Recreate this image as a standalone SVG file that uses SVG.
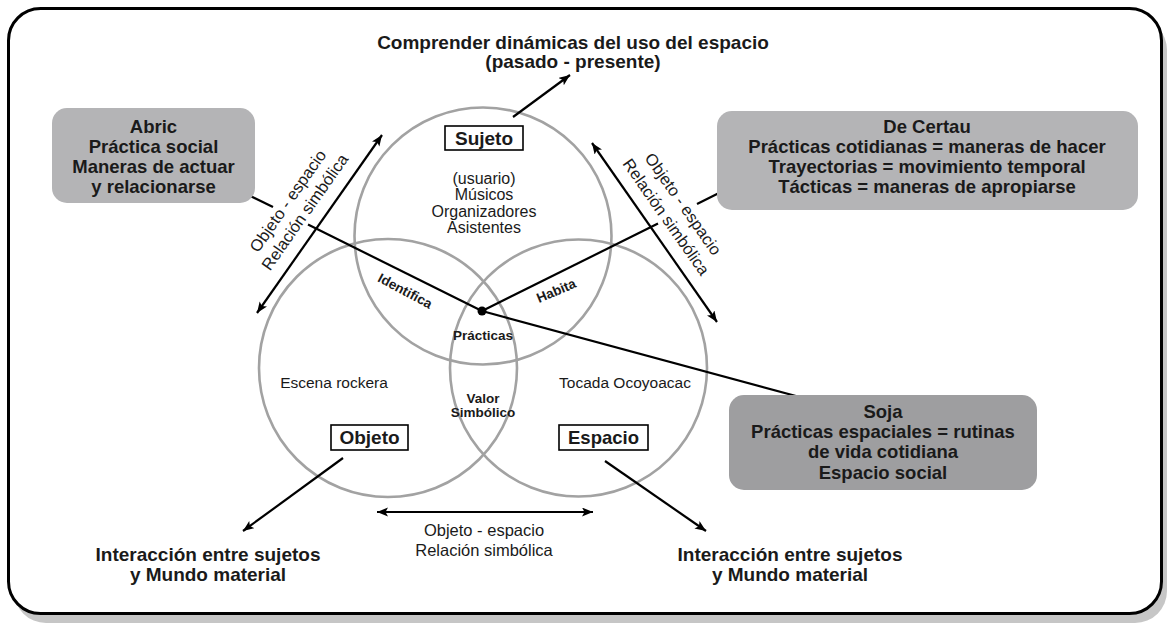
<svg xmlns="http://www.w3.org/2000/svg" width="1167" height="627" viewBox="0 0 1167 627">
<style>
text{font-family:"Liberation Sans",Arial,sans-serif;fill:#1a1a1a;text-anchor:middle}
.b{font-weight:bold}
.box{font-weight:bold;font-size:18.5px}
.reg{font-size:16.5px}
.sm{font-weight:bold;font-size:13.5px}
.circ{fill:none;stroke:#a2a2a2;stroke-width:2.6}
.ln{fill:none;stroke:#000;stroke-width:2.2}
.lab{fill:#fff;stroke:#000;stroke-width:1.6}
</style>
<defs>
<marker id="ah" markerUnits="userSpaceOnUse" markerWidth="12" markerHeight="10" refX="11" refY="4.5" orient="auto-start-reverse" viewBox="0 0 12 10">
<path d="M0,0 L11,4.5 L0,9 L2.5,4.5 Z" fill="#000"/>
</marker>
</defs>
<g id="frame">
<rect x="14" y="18" width="1153" height="605" rx="32" fill="#c6c6c6"/>
<rect x="8.5" y="8.5" width="1153" height="605" rx="32" fill="#fff" stroke="#000" stroke-width="3"/>
</g>
<g id="circles">
<circle id="c-sujeto" class="circ" cx="483" cy="236" r="128.5"/>
<circle id="c-objeto" class="circ" cx="388" cy="368" r="129"/>
<circle id="c-espacio" class="circ" cx="578.5" cy="368" r="128.5"/>
</g>
<g id="connectors">
<line class="ln" x1="513" y1="117" x2="570" y2="75" marker-end="url(#ah)"/>
<line class="ln" x1="257" y1="313" x2="382" y2="135" marker-start="url(#ah)" marker-end="url(#ah)"/>
<line class="ln" x1="592" y1="143" x2="717" y2="322" marker-start="url(#ah)" marker-end="url(#ah)"/>
<line class="ln" x1="377" y1="512" x2="593" y2="512" marker-start="url(#ah)" marker-end="url(#ah)"/>
<line class="ln" x1="343" y1="458" x2="243" y2="531" marker-end="url(#ah)"/>
<line class="ln" x1="605" y1="461" x2="706" y2="531" marker-end="url(#ah)"/>
<line class="ln" x1="273" y1="207" x2="232" y2="187" marker-end="url(#ah)"/>
<line class="ln" x1="482" y1="311" x2="308" y2="224.5"/>
<line class="ln" x1="482" y1="311" x2="658" y2="223.5"/>
<line class="ln" x1="697" y1="204" x2="747" y2="179" marker-end="url(#ah)"/>
<line class="ln" x1="482" y1="311" x2="833" y2="406" marker-end="url(#ah)"/>
<circle cx="482" cy="311" r="4.5" fill="#000"/>
</g>
<g id="title">
<text class="b" x="573" y="48.5" font-size="19">Comprender dinámicas del uso del espacio</text>
<text class="b" x="573" y="68" font-size="19">(pasado - presente)</text>
</g>
<g id="sujeto">
<rect class="lab" x="445" y="126" width="78" height="24"/>
<text class="b" x="484" y="145" font-size="19">Sujeto</text>
<text x="484" y="183.5" font-size="16">(usuario)</text>
<text x="484" y="200" font-size="16">Músicos</text>
<text x="484" y="216.5" font-size="16">Organizadores</text>
<text x="484" y="233" font-size="16">Asistentes</text>
</g>
<g id="objeto">
<text x="334" y="388" font-size="15.5">Escena rockera</text>
<rect class="lab" x="331" y="425" width="77" height="25"/>
<text class="b" x="369.5" y="443.5" font-size="19">Objeto</text>
</g>
<g id="espacio">
<text x="625" y="388" font-size="15.5">Tocada Ocoyoacac</text>
<rect class="lab" x="559" y="425" width="89" height="25"/>
<text class="b" x="603.5" y="443.5" font-size="18.5">Espacio</text>
</g>
<g id="intersections">
<text class="sm" transform="translate(403,295) rotate(28)">Identifica</text>
<text class="sm" transform="translate(558,295) rotate(-23)">Habita</text>
<text class="sm" x="483" y="339.5">Prácticas</text>
<text class="sm" x="483" y="402.5">Valor</text>
<text class="sm" x="483" y="417">Simbólico</text>
</g>
<g id="rel-left">
<text class="reg" transform="translate(292.5,204.2) rotate(-55)">Objeto - espacio</text>
<text class="reg" transform="translate(309.5,215.2) rotate(-55)">Relación simbólica</text>
</g>
<g id="rel-right">
<text class="reg" transform="translate(678.5,207.2) rotate(55)">Objeto - espacio</text>
<text class="reg" transform="translate(661.5,220.2) rotate(55)">Relación simbólica</text>
</g>
<g id="rel-bottom">
<text class="reg" x="484" y="536">Objeto - espacio</text>
<text class="reg" x="484" y="556">Relación simbólica</text>
</g>
<g id="abric">
<rect x="52" y="108" width="203" height="95" rx="15" fill="#b4b4b6"/>
<text class="box" x="153.5" y="133">Abric</text>
<text class="box" x="153.5" y="153">Práctica social</text>
<text class="box" x="153.5" y="173">Maneras de actuar</text>
<text class="box" x="153.5" y="193">y relacionarse</text>
</g>
<g id="decertau">
<rect x="717" y="111" width="421" height="99" rx="15" fill="#b4b4b6"/>
<text class="box" x="927" y="132.5">De Certau</text>
<text class="box" x="927" y="152.7">Prácticas cotidianas = maneras de hacer</text>
<text class="box" x="927" y="172.7">Trayectorias = movimiento temporal</text>
<text class="box" x="927" y="192.7">Tácticas = maneras de apropiarse</text>
</g>
<g id="soja">
<rect x="729" y="395" width="308" height="95" rx="15" fill="#9e9ea0"/>
<text class="box" x="883" y="417.5">Soja</text>
<text class="box" x="883" y="438">Prácticas espaciales = rutinas</text>
<text class="box" x="883" y="458">de vida cotidiana</text>
<text class="box" x="883" y="478.5">Espacio social</text>
</g>
<g id="interaccion-left">
<text class="b" x="208" y="561" font-size="19">Interacción entre sujetos</text>
<text class="b" x="208" y="580.5" font-size="19">y Mundo material</text>
</g>
<g id="interaccion-right">
<text class="b" x="790" y="561" font-size="19">Interacción entre sujetos</text>
<text class="b" x="790" y="580.5" font-size="19">y Mundo material</text>
</g>
</svg>
